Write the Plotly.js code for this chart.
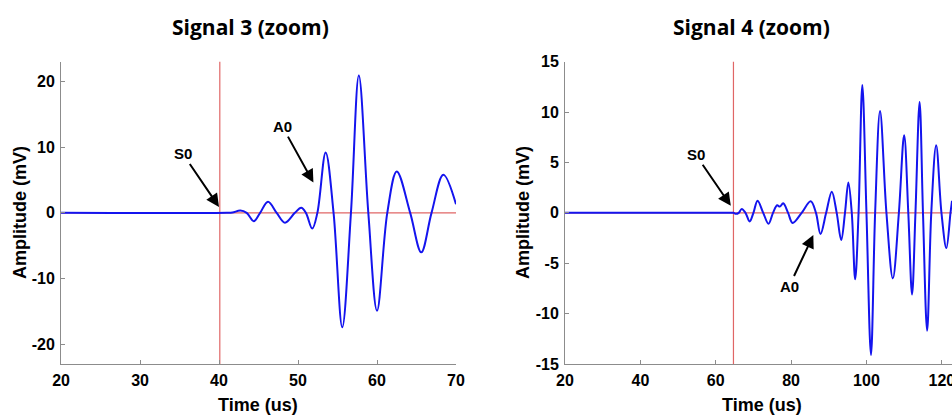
<!DOCTYPE html>
<html><head><meta charset="utf-8">
<script src="https://cdn.plot.ly/plotly-3.0.1.min.js"></script>
<style>html,body{margin:0;padding:0;background:#fff}#chart{width:952px;height:415px}</style>
</head><body><div id="chart"></div>
<script>
// Signal 3 (zoom)
const signal3Time = [20, 41.0, 41.7, 42.7, 43.5, 44.4, 45.2, 46.2, 47.3, 48.35, 49.6, 50.4, 51.0, 51.8, 52.45, 53.5, 54.5, 55.6, 56.7, 57.7, 58.9, 60.0, 61.3, 62.5, 64.2, 65.6, 66.9, 68.4, 70.0];
const signal3Amp  = [0, 0, 0.05, 0.35, 0, -1.27, 0, 1.7, 0, -1.5, 0, 0.78, 0, -2.4, 0, 9.2, 0, -17.4, 0, 20.9, 0, -14.9, 0, 6.3, 0, -6.0, 0, 5.8, 1.3];
// Signal 4 (zoom)
const signal4Time = [20, 64.0, 64.7, 65.4, 66.1, 66.9, 67.9, 69.0, 70.0, 71.1, 72.6, 74.0, 75.2, 76.3, 77.0, 77.9, 79.2, 80.4, 82.8, 85.2, 86.6, 87.8, 89.3, 90.8, 92.1, 93.3, 94.3, 95.2, 96.1, 97.0, 97.9, 98.9, 100.0, 101.2, 102.3, 103.6, 105.3, 107.0, 108.6, 110.0, 111.1, 112.1, 113.0, 114.1, 115.0, 116.1, 117.2, 118.5, 119.9, 121.2, 122.3, 122.7];
const signal4Amp  = [0, 0, 0, -0.1, 0, 0.38, 0, -0.85, 0, 1.2, 0, -1.08, 0, 0.75, 0.62, 0.95, 0, -1.0, 0, 1.15, 0, -2.1, 0, 2.1, 0, -2.7, 0, 3.0, 0, -6.6, 0, 12.7, 0, -14.1, 0, 10.1, 0, -6.5, 0, 7.7, 0, -8.1, 0, 11.0, 0, -11.7, 0, 6.7, 0, -3.5, 0, 1.2];
// Marker times (S0 arrival) and annotation anchor points
const s0Time = [40.1, 64.7];
const labelText = ["S0", "A0"];
const signal3Arrows = [[40.0, 0.9], [51.95, 4.6]];
const signal4Arrows = [[64.0, 0.7], [85.9, -2.2]];
const titles = ["Signal 3 (zoom)", "Signal 4 (zoom)"];
const xLabel = "Time (us)";
const yLabel = "Amplitude (mV)";
// Tick values and labels
const x1Ticks = [20, 30, 40, 50, 60, 70];
const y1Ticks = [-20, -10, 0, 10, 20];
const x2Ticks = [20, 40, 60, 80, 100, 120];
const y2Ticks = [-15, -10, -5, 0, 5, 10, 15];
const x1TickText = ["20", "30", "40", "50", "60", "70"];
const y1TickText = ["-20", "-10", "0", "10", "20"];
const x2TickText = ["20", "40", "60", "80", "100", "120"];
const y2TickText = ["-15", "-10", "-5", "0", "5", "10", "15"];

const tickFont = {family: "Liberation Sans, Arial, sans-serif", size: 16, weight: 700, color: "#000"};
const lblFont = {family: "Liberation Sans, Arial, sans-serif", size: 15, weight: 700, color: "#000"};
const blue = "#1414ee";
const red = "#e06666";

const traces = [
  {x: signal3Time, y: signal3Amp, xaxis: "x", yaxis: "y", type: "scatter", mode: "lines",
   line: {color: blue, width: 2, shape: "spline", smoothing: 1}, hoverinfo: "x+y"},
  {x: signal4Time, y: signal4Amp, xaxis: "x2", yaxis: "y2", type: "scatter", mode: "lines",
   line: {color: blue, width: 2, shape: "spline", smoothing: 1}, hoverinfo: "x+y"}
];

function axisBase() {
  return {showline: true, linecolor: "#8c8c8c", linewidth: 1, ticks: "inside", ticklen: 4,
          tickcolor: "#8c8c8c", showgrid: false, zeroline: false, tickfont: tickFont, mirror: false,
          tickmode: "array", ticklabeloverflow: "allow"};
}
const yDom = [0.1229, 0.8513];
const layout = {
  width: 952, height: 415, paper_bgcolor: "#fff", plot_bgcolor: "#fff", showlegend: false,
  margin: {l: 0, r: 0, t: 0, b: 0},
  xaxis: Object.assign(axisBase(), {domain: [0.0641, 0.479], range: [20, 70], tickvals: x1Ticks, ticktext: x1TickText, anchor: "y", ticklabelstandoff: 2}),
  yaxis: Object.assign(axisBase(), {domain: yDom, range: [-23, 23], tickvals: y1Ticks, ticktext: y1TickText, anchor: "x", ticklabelstandoff: 2}),
  xaxis2: Object.assign(axisBase(), {domain: [0.5935, 1], range: [20, 122.7], tickvals: x2Ticks, ticktext: x2TickText, anchor: "y2", ticklabelstandoff: 2}),
  yaxis2: Object.assign(axisBase(), {domain: yDom, range: [-15, 15], tickvals: y2Ticks, ticktext: y2TickText, anchor: "x2", ticklabelstandoff: 2}),
  shapes: [
    {type: "line", xref: "x", yref: "y domain", x0: s0Time[0], x1: s0Time[0], y0: 0, y1: 1, line: {color: red, width: 1.2}, layer: "below"},
    {type: "line", xref: "x domain", yref: "y", x0: 0, x1: 1, y0: 0, y1: 0, line: {color: red, width: 1.2}, layer: "below"},
    {type: "line", xref: "x2", yref: "y2 domain", x0: s0Time[1], x1: s0Time[1], y0: 0, y1: 1, line: {color: red, width: 1.2}, layer: "below"},
    {type: "line", xref: "x2 domain", yref: "y2", x0: 0, x1: 1, y0: 0, y1: 0, line: {color: red, width: 1.2}, layer: "below"}
  ],
  annotations: [
    {xref: "paper", yref: "paper", x: 250/952, y: 1 - 27/415, text: titles[0], showarrow: false,
     font: {family: "Open Sans, sans-serif", size: 21, weight: 700, color: "#000"}, xanchor: "center", yanchor: "middle"},
    {xref: "paper", yref: "paper", x: 751/952, y: 1 - 27/415, text: titles[1], showarrow: false,
     font: {family: "Open Sans, sans-serif", size: 21, weight: 700, color: "#000"}, xanchor: "center", yanchor: "middle"},
    {xref: "paper", yref: "paper", x: 258/952, y: 1 - 405/415, text: xLabel, showarrow: false,
     font: {family: "Liberation Sans, Arial, sans-serif", size: 18, weight: 700, color: "#000"}, xanchor: "center", yanchor: "middle"},
    {xref: "paper", yref: "paper", x: 762/952, y: 1 - 405/415, text: xLabel, showarrow: false,
     font: {family: "Liberation Sans, Arial, sans-serif", size: 18, weight: 700, color: "#000"}, xanchor: "center", yanchor: "middle"},
    {xref: "paper", yref: "paper", x: 20/952, y: 1 - 213/415, text: yLabel, showarrow: false, textangle: -90,
     font: {family: "Liberation Sans, Arial, sans-serif", size: 18, weight: 700, color: "#000"}, xanchor: "center", yanchor: "middle"},
    {xref: "paper", yref: "paper", x: 523/952, y: 1 - 213/415, text: yLabel, showarrow: false, textangle: -90,
     font: {family: "Liberation Sans, Arial, sans-serif", size: 18, weight: 700, color: "#000"}, xanchor: "center", yanchor: "middle"},
    {xref: "x", yref: "y", x: signal3Arrows[0][0], y: signal3Arrows[0][1], text: labelText[0], showarrow: true,
     ax: -36, ay: -53, arrowhead: 2, arrowsize: 1.3, arrowwidth: 2, arrowcolor: "#000", font: lblFont},
    {xref: "x", yref: "y", x: signal3Arrows[1][0], y: signal3Arrows[1][1], text: labelText[1], showarrow: true,
     ax: -31, ay: -56, arrowhead: 2, arrowsize: 1.3, arrowwidth: 2, arrowcolor: "#000", font: lblFont},
    {xref: "x2", yref: "y2", x: signal4Arrows[0][0], y: signal4Arrows[0][1], text: labelText[0], showarrow: true,
     ax: -35, ay: -51, arrowhead: 2, arrowsize: 1.3, arrowwidth: 2, arrowcolor: "#000", font: lblFont},
    {xref: "x2", yref: "y2", x: signal4Arrows[1][0], y: signal4Arrows[1][1], text: labelText[1], showarrow: true,
     ax: -24, ay: 51, arrowhead: 2, arrowsize: 1.3, arrowwidth: 2, arrowcolor: "#000", font: lblFont}
  ]
};
Plotly.newPlot("chart", traces, layout, {staticPlot: true, displayModeBar: false});
</script>
</body></html>
